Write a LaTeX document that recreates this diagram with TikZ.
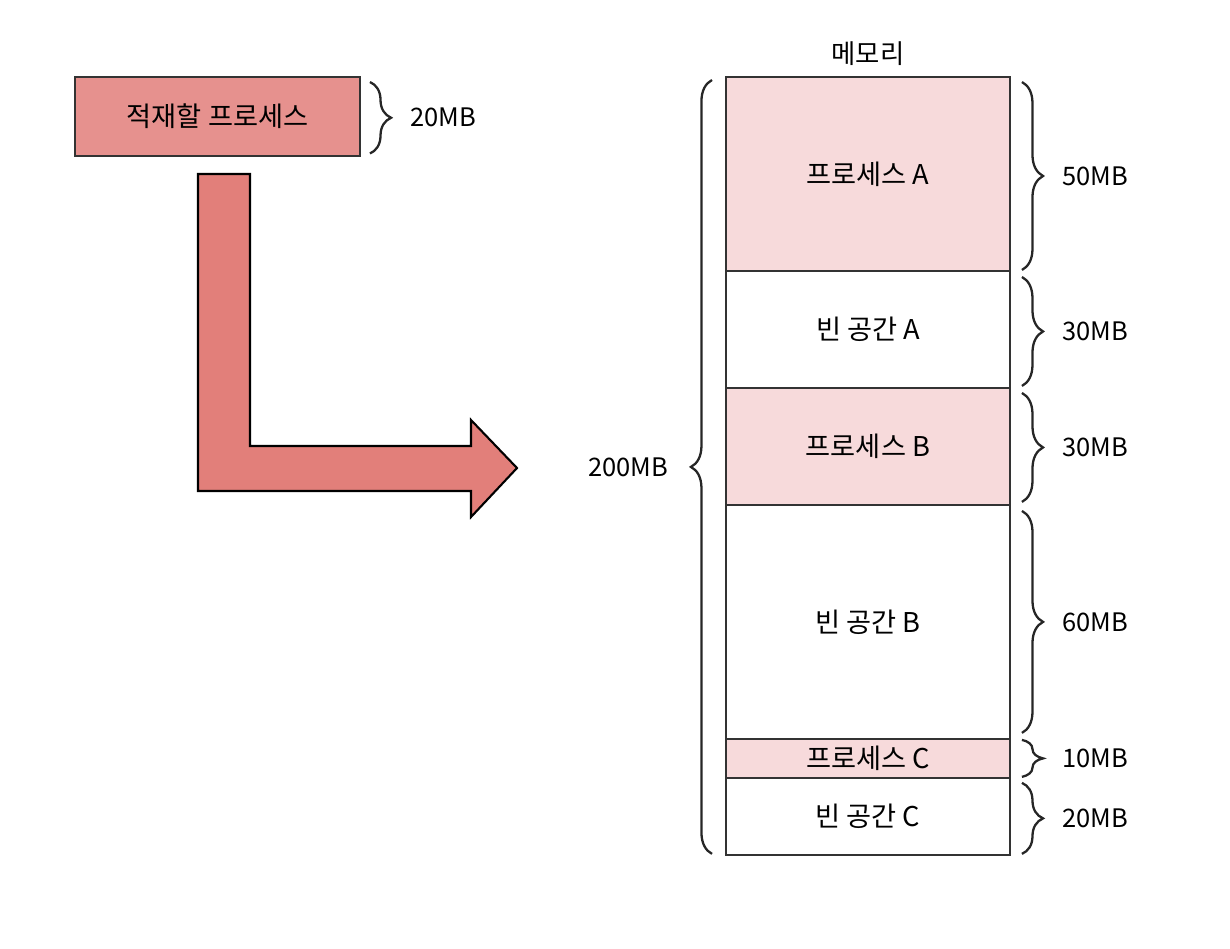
\documentclass[tikz,border=0pt]{standalone}
\usepackage{fontspec}
\setmainfont{Noto Sans CJK KR}
\usetikzlibrary{positioning,decorations.pathreplacing}
\definecolor{Ink}{HTML}{333333}
\definecolor{LoadRed}{HTML}{E6918E}
\definecolor{ArrowRed}{HTML}{E27F7A}
\definecolor{ProcPink}{HTML}{F7DADB}

\begin{document}
\begin{tikzpicture}[
      x=0.02cm,y=-0.02cm,
      block/.style={
        draw=Ink,
        line width=1.4pt,
        minimum width=5.68cm,
        inner sep=0pt,
        outer sep=0pt,
        font=\fontsize{15.5}{18}\selectfont
      },
      proc/.style={block,fill=ProcPink},
      hole/.style={block,fill=white},
      sizebrace/.style={
        draw=black!85,
        line width=1.3pt,
        decorate,
        decoration={brace,amplitude=12pt}
      },
      sizelabel/.style={font=\fontsize{14.5}{17}\selectfont,inner sep=2pt}
    ]
      \useasboundingbox (0,0) rectangle (1230,948);

      % process waiting to be loaded
      \node[block,fill=LoadRed,minimum width=5.7cm,minimum height=1.58cm] (target) at (217.5,116.5) {적재할 프로세스};
      \draw[sizebrace] ([xshift=0.2cm,yshift=-0.1cm]target.north east) -- ([xshift=0.2cm,yshift=0.05cm]target.south east)
        node[sizelabel,midway,right=0.72cm] (targetsize) {20MB};

      % bent arrow
      \draw[fill=ArrowRed,line width=1.2pt,line join=miter]
        (198,174) -- (250,174) -- (250,446) -- (471,446) -- (471,420) -- (517,468)
        -- (471,517) -- (471,491) -- (198,491) -- cycle;

      % memory layout
      \node[proc,minimum height=3.88cm,anchor=north west] (procA) at (726,77) {프로세스 A};
      \node[hole,minimum height=2.34cm,below=0pt of procA] (holeA) {빈 공간 A};
      \node[proc,minimum height=2.34cm,below=0pt of holeA] (procB) {프로세스 B};
      \node[hole,minimum height=4.68cm,below=0pt of procB] (holeB) {빈 공간 B};
      \node[proc,minimum height=0.78cm,below=0pt of holeB] (procC) {프로세스 C};
      \node[hole,minimum height=1.54cm,below=0pt of procC] (holeC) {빈 공간 C};
      \node[font=\fontsize{15}{18}\selectfont,above=0.1cm of procA] (memory) {메모리};

      % sizes
      \draw[sizebrace] ([xshift=0.24cm,yshift=-0.1cm]procA.north east) -- ([xshift=0.24cm,yshift=0.02cm]procA.south east)
        node[sizelabel,midway,right=0.72cm] (sizeA) {50MB};
      \draw[sizebrace] ([xshift=0.24cm,yshift=-0.12cm]holeA.north east) -- ([xshift=0.24cm,yshift=0.04cm]holeA.south east)
        node[sizelabel,midway,right=0.72cm] (sizeHA) {30MB};
      \draw[sizebrace] ([xshift=0.24cm,yshift=-0.1cm]procB.north east) -- ([xshift=0.24cm,yshift=0.06cm]procB.south east)
        node[sizelabel,midway,right=0.72cm] (sizeB) {30MB};
      \draw[sizebrace] ([xshift=0.24cm,yshift=-0.12cm]holeB.north east) -- ([xshift=0.24cm,yshift=0.12cm]holeB.south east)
        node[sizelabel,midway,right=0.72cm] (sizeHB) {60MB};
      \draw[sizebrace] ([xshift=0.24cm,yshift=-0.02cm]procC.north east) -- ([xshift=0.24cm,yshift=0.02cm]procC.south east)
        node[sizelabel,midway,right=0.72cm] (sizeC) {10MB};
      \draw[sizebrace] ([xshift=0.24cm,yshift=-0.1cm]holeC.north east) -- ([xshift=0.24cm,yshift=0.02cm]holeC.south east)
        node[sizelabel,midway,right=0.72cm] (sizeHC) {20MB};
      \draw[sizebrace] ([xshift=-0.28cm,yshift=0.02cm]holeC.south west) -- ([xshift=-0.28cm,yshift=-0.06cm]procA.north west)
        node[sizelabel,midway,left=0.78cm] (total) {200MB};
    \end{tikzpicture}
\end{document}
